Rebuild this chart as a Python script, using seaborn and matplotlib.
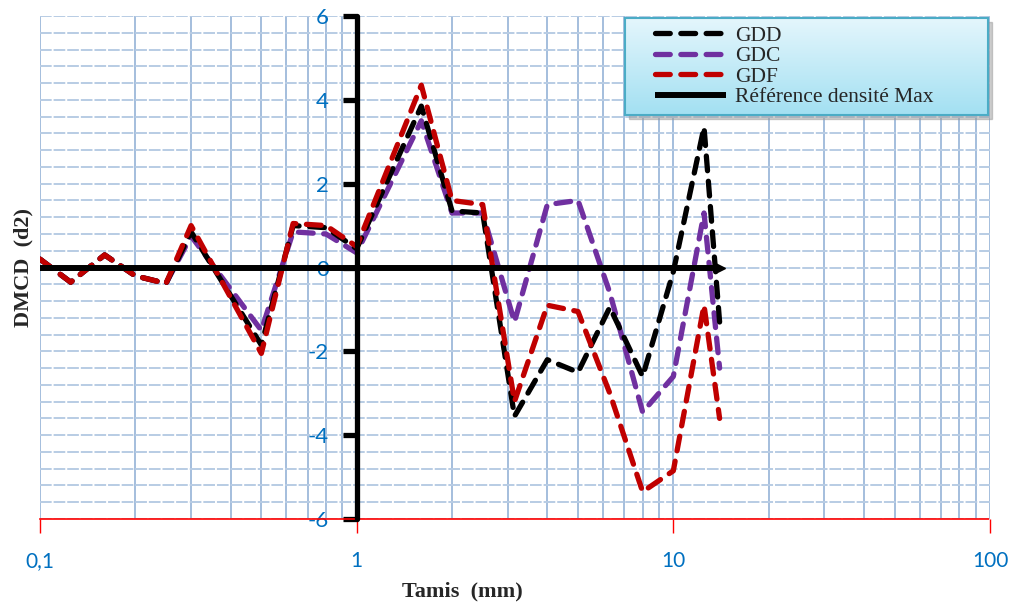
import matplotlib
matplotlib.use("Agg")
import numpy as np
import matplotlib.pyplot as plt
import seaborn as sns
from matplotlib.ticker import FixedLocator, FixedFormatter, MultipleLocator, LogLocator, NullFormatter
from matplotlib.colors import LinearSegmentedColormap
from matplotlib.patches import Rectangle

# tamis (mm) et DMCD des trois graves
tamis = [0.1, 0.125, 0.16, 0.2, 0.25, 0.3, 0.5, 0.63, 0.8, 1, 1.6, 2, 2.5,
         3.15, 4, 5, 6.3, 8, 10, 12.5, 14]
gdd = [0.2, -0.35, 0.3, -0.2, -0.38, 0.85, -1.85, 1.0, 0.95, 0.45, 3.85, 1.35, 1.3,
       -3.55, -2.2, -2.5, -0.95, -2.6, -0.1, 3.35, -1.3]
gdc = [0.2, -0.35, 0.3, -0.2, -0.38, 0.75, -1.5, 0.85, 0.8, 0.35, 3.5, 1.3, 1.3,
       -1.3, 1.5, 1.6, -0.6, -3.45, -2.6, 1.3, -2.4]
gdf = [0.2, -0.35, 0.3, -0.2, -0.38, 1.0, -2.05, 1.05, 1.0, 0.5, 4.35, 1.6, 1.5,
       -3.2, -0.9, -1.05, -3.0, -5.35, -4.85, -0.9, -3.6]
ref_x = [0.1, 14]
ref_y = [0, 0]

x_ticks = [0.1, 1, 10, 100]
x_labels = ["0,1", "1", "10", "100"]
y_ticks = [-6, -4, -2, 0, 2, 4, 6]

sns.set_style("white")
plt.rcParams['font.family'] = ['Lato', 'DejaVu Sans']
plt.rcParams['axes.unicode_minus'] = False

fig = plt.figure(figsize=(10.16, 6.05), dpi=100)
ax = fig.add_axes([40/1016, 1-519/605, 950/1016, 503/605])
ax.set_xscale('log')

dash = (0, (2.8, 2.0))
sns.lineplot(x=tamis, y=gdc, color='#7030A0', lw=3.8, linestyle=dash, dash_capstyle='round',
             label='GDC', legend=False, zorder=3, ax=ax)
sns.lineplot(x=tamis, y=gdd, color='black', lw=3.8, linestyle=dash, dash_capstyle='round',
             label='GDD', legend=False, zorder=4, ax=ax)
sns.lineplot(x=tamis, y=gdf, color='#C00000', lw=3.8, linestyle=dash, dash_capstyle='round',
             label='GDF', legend=False, zorder=5, ax=ax)
sns.lineplot(x=ref_x, y=ref_y, color='black', lw=4.3, solid_capstyle='butt',
             label='Référence densité Max', legend=False, zorder=6, ax=ax)
ax.plot(ref_x[-1:], ref_y[-1:], marker='>', color='black', markersize=7, zorder=6, clip_on=False)

ax.set_xlim(0.1, 100)
ax.set_ylim(-6, 6)

# grilles
ax.xaxis.set_major_locator(FixedLocator(x_ticks))
ax.xaxis.set_major_formatter(FixedFormatter(x_labels))
ax.xaxis.set_minor_locator(LogLocator(base=10, subs=np.arange(2, 10)))
ax.xaxis.set_minor_formatter(NullFormatter())
ax.yaxis.set_major_locator(FixedLocator(y_ticks))
ax.yaxis.set_minor_locator(MultipleLocator(0.4))
ax.grid(True, axis='x', which='both', color='#95B3D7', lw=1.2, zorder=0)
ax.grid(True, axis='y', which='both', color='#B8CCE4', lw=1.4, linestyle=(0, (6, 1)), zorder=0)
ax.set_axisbelow(True)

# axes
ax.spines['top'].set_visible(False)
ax.spines['right'].set_visible(False)
ax.spines['left'].set_position(('data', 1))
ax.spines['left'].set_linewidth(3.8)
ax.spines['left'].set_color('black')
ax.spines['left'].set_capstyle('round')
ax.spines['left'].set_zorder(7)
ax.spines['bottom'].set_color('red')
ax.spines['bottom'].set_linewidth(1.2)
ax.spines['bottom'].set_linestyle((0, (2, 1)))

ax.tick_params(axis='x', which='major', direction='out', length=10, width=1, color='red',
               labelcolor='#0070C0', labelsize=15, pad=13, bottom=True)
ax.tick_params(axis='x', which='minor', length=0)
ax.tick_params(axis='y', which='major', direction='out', length=10, width=3.8, color='black',
               labelcolor='#0070C0', labelsize=16, pad=10, left=True)
ax.tick_params(axis='y', which='minor', length=0)

ax.set_xlabel('Tamis  (mm)', family='Liberation Serif', fontweight='bold', fontsize=16)
ax.set_ylabel('DMCD  (d2)', family='Liberation Serif', fontweight='bold', fontsize=16)
ax.xaxis.set_label_coords(0.445, -0.125)
ax.yaxis.set_label_coords(-0.007, 0.5)

# légende sur fond dégradé
lx0, ly0, lw_, lh = 625/1016, 1-115/605, 363/1016, 97/605
fig.add_artist(Rectangle((lx0 + 4/1016, ly0 - 4/605), lw_, lh, transform=fig.transFigure,
                         color='#9a9a9a', alpha=0.5, zorder=1))
lax = fig.add_axes([lx0, ly0, lw_, lh], zorder=2)
cmap = LinearSegmentedColormap.from_list('lg', ['#E4F6FC', '#A3E0F2'])
lax.imshow(np.linspace(0, 1, 100).reshape(-1, 1), aspect='auto', cmap=cmap,
           extent=[0, 1, 0, 1], origin='upper')
lax.set_xticks([])
lax.set_yticks([])
for s in lax.spines.values():
    s.set_color('#4BACC6')
    s.set_linewidth(1.5)

handles, labels = ax.get_legend_handles_labels()
order = ['GDD', 'GDC', 'GDF', 'Référence densité Max']
hmap = dict(zip(labels, handles))
lax.legend([hmap[k] for k in order], order, loc='center left', bbox_to_anchor=(0.083, 0.5),
           frameon=False, prop={'family': 'Liberation Serif', 'size': 15.5},
           handlelength=3.3, handletextpad=0.4, labelspacing=0.02, borderpad=0, borderaxespad=0)

fig.savefig('out.png', dpi=100)
